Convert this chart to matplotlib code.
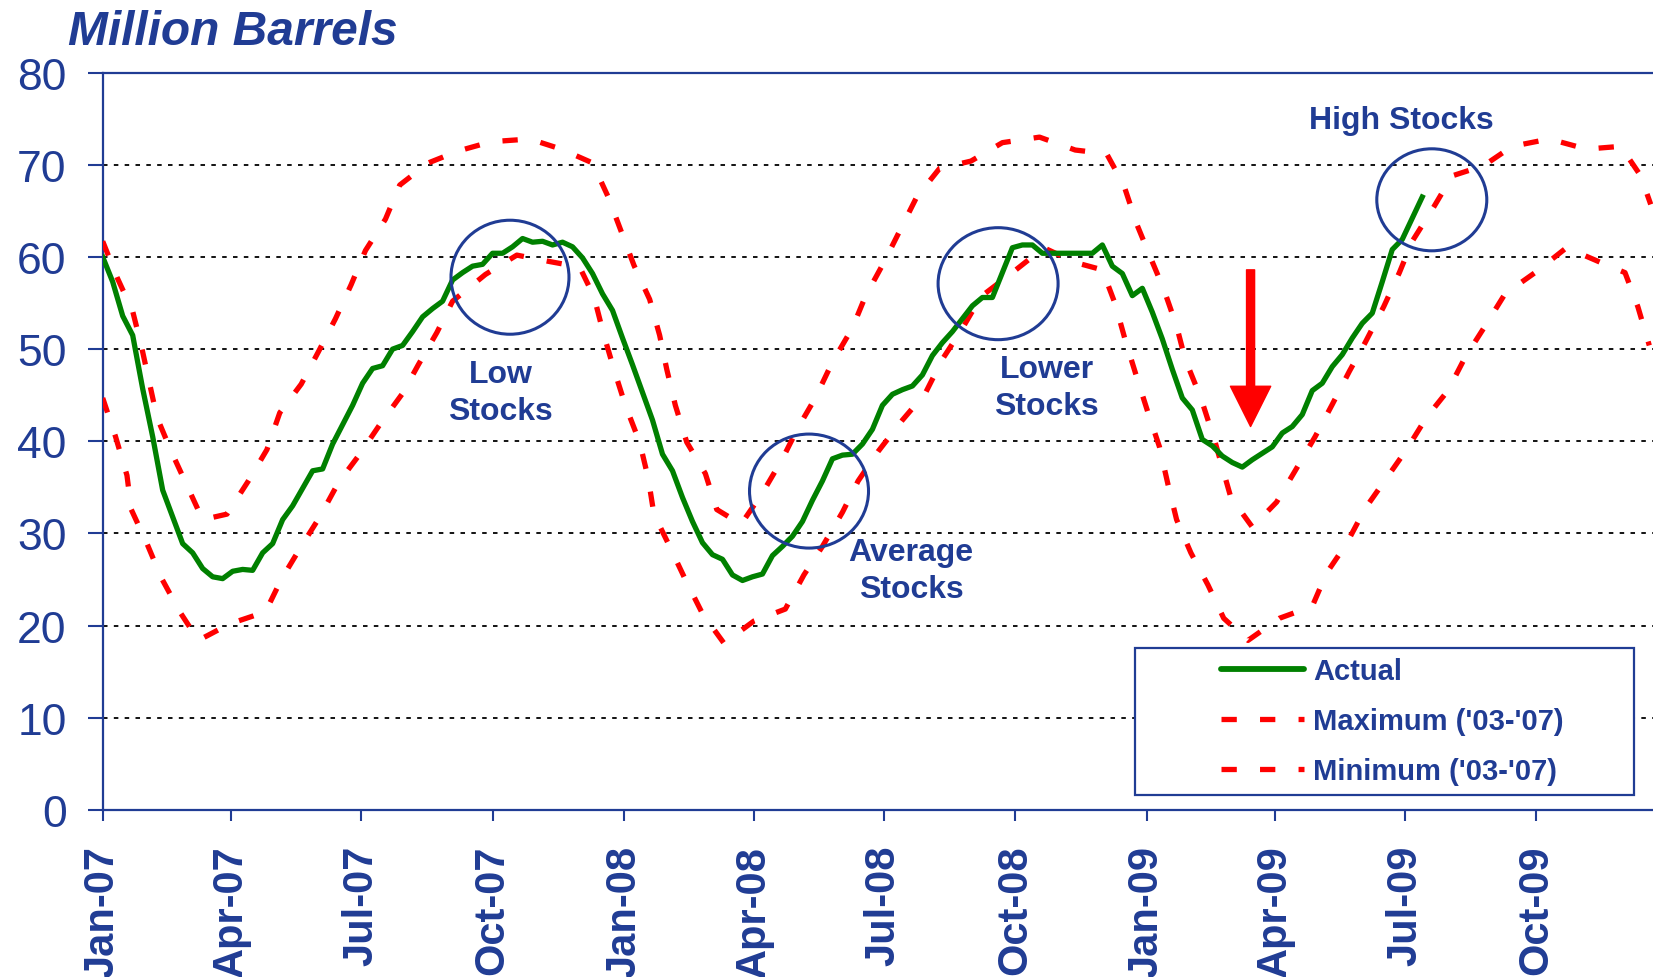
import pandas as pd
import matplotlib
matplotlib.use("Agg")
import matplotlib.pyplot as plt
import matplotlib.dates as mdates
from matplotlib.lines import Line2D
from matplotlib.patches import Ellipse, Rectangle
from matplotlib.transforms import ScaledTranslation

plt.rcParams["font.family"] = ["Liberation Sans", "DejaVu Sans"]

NAVY = "#203c94"
GREEN = "#008000"
RED = "#ff0000"

start = pd.Timestamp("2007-01-01")

# Weekly actual stocks (million barrels), from the first week of Jan-07
actual = [60.0, 57.3, 53.6, 51.5, 45.7, 40.5, 34.7, 31.8, 28.9, 27.9, 26.2, 25.3, 25.1, 25.9,
          26.1, 26.0, 27.9, 28.9, 31.5, 33.0, 34.9, 36.8, 37.0, 39.7, 41.8, 43.9, 46.3, 47.9,
          48.2, 50.0, 50.4, 51.9, 53.5, 54.4, 55.2, 57.5, 58.3, 59.0, 59.2, 60.4,
          60.4, 61.1, 62.0, 61.6, 61.7, 61.3, 61.6, 61.1, 59.9, 58.2, 56.0, 54.2, 51.2, 48.3,
          45.3, 42.3, 38.6, 36.8, 33.9, 31.3, 29.0, 27.7, 27.2, 25.5, 24.9, 25.3, 25.6, 27.6,
          28.6, 29.7, 31.3, 33.6, 35.7, 38.1, 38.5, 38.6, 39.7, 41.3,
          43.9, 45.1, 45.6, 46.0, 47.2, 49.3, 50.7, 51.9, 53.3, 54.7, 55.6, 55.6, 58.3, 61.0,
          61.3, 61.3, 60.4, 60.4, 60.4, 60.4, 60.4, 60.4, 61.3, 59.0, 58.2, 55.8, 56.6, 54.0,
          51.1, 47.8, 44.7, 43.4, 40.2, 39.5, 38.4, 37.7, 37.2, 38.0,
          38.7, 39.4, 40.9, 41.6, 42.9, 45.5, 46.3, 48.1, 49.4, 51.2, 52.8, 53.9, 57.3, 60.8,
          61.9, 64.2, 66.5]

# 5-year range ('03-'07): days since Jan 1 2007 and value
max_day = [0, 10, 21, 27, 38, 48, 59, 70, 87, 102, 115, 124, 139, 151, 163, 174, 184, 198,
           208, 228, 249, 272, 299, 321, 343, 354, 363, 372, 383, 390, 395, 401, 409, 422,
           430, 447, 462, 476, 487, 499, 511, 525, 534, 547, 559, 570, 586, 608, 630, 656,
           681, 703, 715, 724, 733, 743, 752, 758, 769, 779, 790, 805, 822, 835, 849, 861,
           873, 884, 897, 908, 917, 932, 945, 967, 987, 1013, 1039, 1063, 1077, 1084]
max_val = [61.7, 57.8, 54.1, 50.4, 42.6, 38.9, 35.2, 31.5, 32.1, 35.7, 39.1, 43.1, 46.2,
           49.7, 53.3, 57.0, 60.7, 64.1, 67.8, 70.2, 71.5, 72.5, 72.8, 71.7, 70.2, 66.5,
           62.8, 59.1, 55.4, 51.5, 47.8, 43.9, 39.9, 36.5, 32.6, 31.0, 34.4, 38.1, 41.5,
           44.7, 48.6, 52.3, 55.7, 59.4, 63.1, 66.5, 69.6, 70.4, 72.4, 73.0, 71.6, 71.2,
           67.8, 63.6, 60.2, 56.5, 52.5, 48.9, 44.7, 39.9, 33.9, 30.7, 33.4, 36.8, 40.5,
           44.0, 47.6, 50.7, 54.6, 58.3, 61.7, 65.4, 68.8, 69.9, 72.0, 72.8, 71.7, 72.0,
           68.8, 65.7]

min_day = [0, 9, 17, 20, 31, 41, 54, 67, 89, 114, 125, 139, 152, 165, 180, 194, 210, 221,
           234, 245, 268, 290, 313, 334, 344, 351, 358, 366, 376, 382, 386, 397, 408, 420,
           435, 456, 478, 491, 504, 518, 529, 543, 560, 576, 588, 601, 615, 637, 659, 681,
           700, 709, 716, 724, 732, 740, 746, 752, 762, 774, 785, 802, 824, 847, 857, 871,
           884, 899, 913, 927, 942, 954, 968, 982, 1003, 1025, 1049, 1066, 1075, 1083]
min_val = [44.7, 40.5, 36.3, 32.6, 28.9, 25.2, 21.5, 18.4, 20.2, 21.5, 25.0, 28.6, 31.8,
           35.5, 38.6, 41.8, 45.2, 48.3, 51.8, 55.2, 58.1, 60.2, 59.5, 58.9, 55.7, 51.5,
           47.8, 43.9, 39.9, 36.0, 32.1, 28.6, 25.0, 21.3, 18.1, 20.5, 21.8, 25.5, 28.6,
           32.3, 35.7, 38.9, 42.3, 45.2, 48.9, 52.0, 55.7, 58.3, 61.0, 59.4, 58.6, 54.9,
           51.0, 47.0, 43.1, 39.4, 35.3, 31.5, 27.9, 24.4, 20.8, 18.4, 20.8, 22.1, 25.7,
           28.9, 32.7, 36.0, 39.1, 42.6, 45.5, 49.1, 52.5, 56.0, 58.3, 61.0, 59.4, 58.3,
           54.6, 50.4]

tick_labels = ["Jan-07", "Apr-07", "Jul-07", "Oct-07", "Jan-08", "Apr-08", "Jul-08",
               "Oct-08", "Jan-09", "Apr-09", "Jul-09", "Oct-09"]

# callouts: label, text position, ring centre, ring size (inches)
callouts = [
    ("Low\nStocks", 278.6, 45.3, 285.2, 57.8, 1.18, 1.14),
    ("Average\nStocks", 566.0, 26.0, 494.6, 34.6, 1.19, 1.14),
    ("Lower\nStocks", 661.0, 45.8, 627.0, 57.1, 1.20, 1.12),
    ("High Stocks", 909.7, 74.9, 930.7, 66.2, 1.10, 1.02),
]


def to_dates(days):
    return start + pd.to_timedelta(days, unit="D")


actual_dates = pd.date_range(start, periods=len(actual), freq="7D")

fig = plt.figure(figsize=(16.53, 9.78), dpi=100, facecolor="white")
ax = fig.add_axes([102.7 / 1653, 1 - 811 / 978, (1653 - 102.7) / 1653, (811 - 73.6) / 978])

dash_kw = dict(color=RED, lw=3.8, dashes=(2.9, 4.4), dash_capstyle="butt")
ax.plot(to_dates(max_day), max_val, zorder=3, **dash_kw)
ax.plot(to_dates(min_day), min_val, zorder=3, **dash_kw)
ax.plot(actual_dates, actual, color=GREEN, lw=3.8, zorder=4, solid_joinstyle="round")

ax.set_xlim(start, start + pd.Timedelta(days=1085.6))
ax.set_ylim(0, 80)
ax.set_yticks(range(0, 81, 10))
ax.set_xticks(pd.date_range("2007-01-01", "2009-10-01", freq="QS"),
              labels=tick_labels, rotation=90, fontweight="bold")

ax.yaxis.grid(True, color="black", linestyle=(0, (2.5, 3.5)), lw=1.3)
ax.set_axisbelow(True)

for side in ["left", "bottom", "top"]:
    ax.spines[side].set_color(NAVY)
    ax.spines[side].set_linewidth(1.6)
ax.spines["right"].set_visible(False)

ax.tick_params(axis="y", direction="out", length=11, width=1.5, color=NAVY,
               labelcolor=NAVY, labelsize=32, pad=15)
ax.tick_params(axis="x", direction="out", length=8, width=1.5, color=NAVY,
               labelcolor=NAVY, labelsize=30, pad=17)

# rings and their captions
for label, tx, ty, cx, cy, w, h in callouts:
    x = mdates.date2num(start + pd.Timedelta(days=cx))
    trans = fig.dpi_scale_trans + ScaledTranslation(x, cy, ax.transData)
    ax.add_patch(Ellipse((0, 0), w, h, transform=trans, fill=False, ec=NAVY, lw=2.2,
                         zorder=5, clip_on=False))
    ax.text(start + pd.Timedelta(days=tx), ty, label, ha="center", va="center",
            fontsize=23, fontweight="bold", color=NAVY, linespacing=1.3, zorder=6)

# downward arrow
arrow_x = start + pd.Timedelta(days=803.8)
ax.annotate("", xy=(arrow_x, 41.6), xytext=(arrow_x, 58.6),
            arrowprops=dict(width=5.8, headwidth=29, headlength=29, fc=RED, ec=RED,
                            shrink=0), zorder=6)

# legend
ax.add_patch(Rectangle((1135 / 1653, 1 - 796 / 978), 499 / 1653, 147 / 978,
                       transform=fig.transFigure, fc="white", ec=NAVY, lw=1.6,
                       zorder=7, clip_on=False))
handles = [Line2D([], [], color=GREEN, lw=4.2, solid_capstyle="round"),
           Line2D([], [], **dash_kw),
           Line2D([], [], **dash_kw)]
leg = ax.legend(handles, ["Actual", "Maximum ('03-'07)", "Minimum ('03-'07)"],
                loc="center left", bbox_to_anchor=(1221 / 1653, 1 - 722 / 978),
                bbox_transform=fig.transFigure, frameon=False, borderpad=0,
                borderaxespad=0, handlelength=2.85, handletextpad=0.3, labelspacing=0.75,
                prop=dict(weight="bold", size=21), labelcolor=NAVY)
leg.set_zorder(8)

fig.text(68 / 1653, 1 - 45 / 978, "Million Barrels", fontsize=34.5, fontweight="bold",
         fontstyle="italic", color=NAVY, va="baseline")

fig.savefig("out.png", dpi=100)
